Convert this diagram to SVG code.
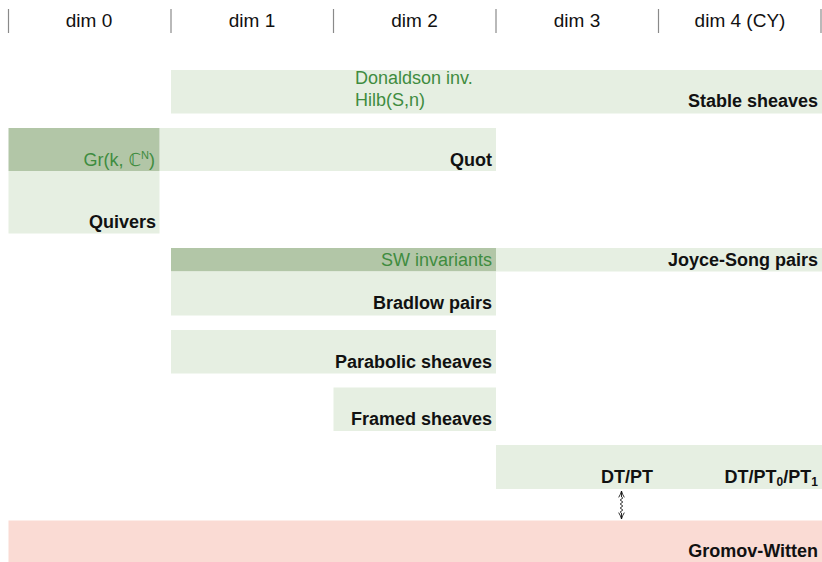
<svg xmlns="http://www.w3.org/2000/svg" width="822" height="562" viewBox="0 0 822 562">
<defs>
<style>
.hdr{font-family:"Liberation Sans","DejaVu Sans",sans-serif;font-size:19px;fill:#111;text-anchor:middle}
.div{stroke:#8a8a8a;stroke-width:1.2}
.lt{fill:#e6efe2}
.dk{fill:#b2c6a7}
.pk{fill:#fadbd4}
.b{font-family:"Liberation Sans","DejaVu Sans",sans-serif;font-size:18px;font-weight:bold;fill:#111;text-anchor:end}
.g{font-family:"Liberation Sans","DejaVu Sans",sans-serif;font-size:18px;fill:#3f8c3f}
.ge{text-anchor:end}
</style>
<marker id="ah" viewBox="0 0 10 10" refX="9" refY="5" markerWidth="8" markerHeight="8" markerUnits="userSpaceOnUse" orient="auto-start-reverse">
<path d="M1,1.5 Q5,4 9,5 Q5,6 1,8.5" fill="none" stroke="#111" stroke-width="1.1"/>
</marker>
</defs>
<rect width="822" height="562" fill="#fff"/>
<g id="header">
<line class="div" x1="8.5" y1="9" x2="8.5" y2="33"/>
<line class="div" x1="171" y1="9" x2="171" y2="33"/>
<line class="div" x1="333.5" y1="9" x2="333.5" y2="33"/>
<line class="div" x1="496" y1="9" x2="496" y2="33"/>
<line class="div" x1="658.5" y1="9" x2="658.5" y2="33"/>
<line class="div" x1="821" y1="9" x2="821" y2="33"/>
<text class="hdr" x="89" y="27">dim 0</text>
<text class="hdr" x="252" y="27">dim 1</text>
<text class="hdr" x="414.5" y="27">dim 2</text>
<text class="hdr" x="577" y="27">dim 3</text>
<text class="hdr" x="740" y="27">dim 4 (CY)</text>
</g>
<g id="stable">
<rect class="lt" x="171" y="70" width="651" height="43.5"/>
<text class="g" x="355" y="84">Donaldson inv.</text>
<text class="g" x="355" y="106">Hilb(S,n)</text>
<text class="b" x="818" y="107">Stable sheaves</text>
</g>
<g id="quot">
<rect class="lt" x="159.5" y="128" width="336.5" height="43"/>
<rect class="dk" x="8.5" y="128" width="151" height="43"/>
<text class="g ge" x="155" y="166">Gr(k, ℂ<tspan font-size="11" dy="-7">N</tspan><tspan dy="7">)</tspan></text>
<text class="b" x="492" y="166">Quot</text>
</g>
<g id="quivers">
<rect class="lt" x="8.5" y="171" width="151" height="62.5"/>
<text class="b" x="156" y="228">Quivers</text>
</g>
<g id="joyce-song">
<rect class="dk" x="171" y="248" width="325" height="23.5"/>
<rect class="lt" x="496" y="248" width="326" height="23.5"/>
<text class="g ge" x="492" y="266">SW invariants</text>
<text class="b" x="818" y="266">Joyce-Song pairs</text>
</g>
<g id="bradlow">
<rect class="lt" x="171" y="271.5" width="325" height="44"/>
<text class="b" x="492" y="309">Bradlow pairs</text>
</g>
<g id="parabolic">
<rect class="lt" x="171" y="330" width="325" height="43.5"/>
<text class="b" x="492" y="368">Parabolic sheaves</text>
</g>
<g id="framed">
<rect class="lt" x="333.5" y="387.5" width="162.5" height="43.5"/>
<text class="b" x="492" y="425">Framed sheaves</text>
</g>
<g id="dtpt">
<rect class="lt" x="496" y="445" width="326" height="44"/>
<text class="b" x="653" y="483">DT/PT</text>
<text class="b" x="818" y="483">DT/PT<tspan font-size="12" dy="3">0</tspan><tspan dy="-3">/PT</tspan><tspan font-size="12" dy="3">1</tspan></text>
</g>
<g id="gromov-witten">
<rect class="pk" x="8.5" y="520.5" width="813.5" height="41.5"/>
<text class="b" x="818" y="557">Gromov-Witten</text>
</g>
<g id="connectors">
<path d="M621.5,491 L621.5,497 L622.8,498 L620.2,500 L622.8,502 L620.2,504 L622.8,506 L620.2,508 L622.8,510 L620.2,512 L621.5,513 L621.5,519" fill="none" stroke="#111" stroke-width="0.9" marker-start="url(#ah)" marker-end="url(#ah)"/>
</g>
</svg>
